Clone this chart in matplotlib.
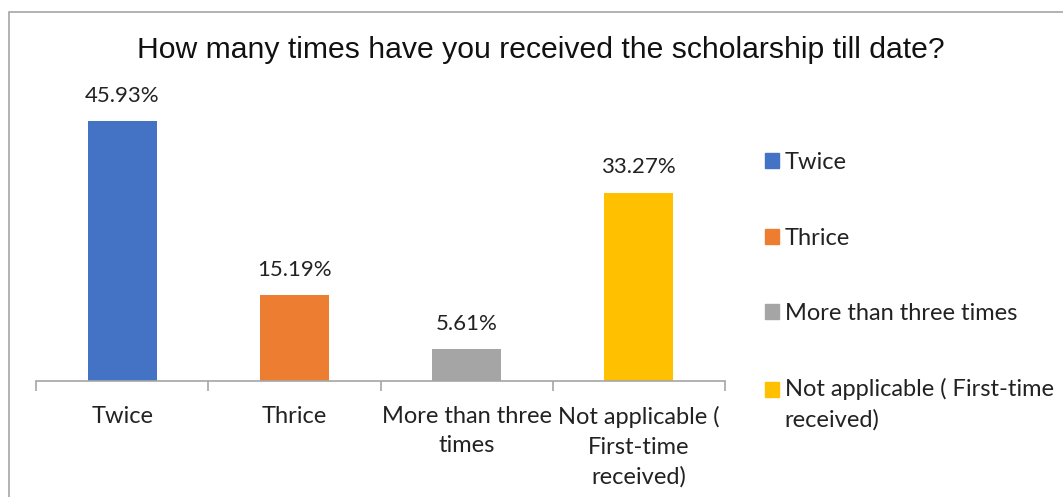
import matplotlib.pyplot as plt
from matplotlib.patches import Rectangle
from matplotlib.legend_handler import HandlerPatch

categories = ["Twice", "Thrice", "More than three times", "Not applicable ( First-time received)"]
tick_labels = ["Twice", "Thrice", "More than three\ntimes", "Not applicable (\nFirst-time\nreceived)"]
legend_labels = ["Twice", "Thrice", "More than three times", "Not applicable ( First-time\nreceived)"]
percents = [45.93, 15.19, 5.61, 33.27]
colors = ["#4472C4", "#ED7D31", "#A5A5A5", "#FFC000"]

W, H = 1063, 497
fig = plt.figure(figsize=(W / 100, H / 100), dpi=100)
ax = fig.add_axes([36 / W, 1 - 381 / H, (725 - 36) / W, (381 - 98) / H])

body = ["Lato", "DejaVu Sans"]
xs = list(range(len(percents)))
bars = ax.bar(xs, percents, width=0.4, color=colors, label=categories)
for x, v in zip(xs, percents):
    ax.annotate(f"{v:.2f}%", (x, v), xytext=(0, 11), textcoords="offset points",
                ha="center", va="bottom", fontsize=16, family=body, color="#222222")

ax.set_xlim(-0.5, 3.5)
ax.set_ylim(0, 50)
ax.set_yticks([])
for side in ["top", "right", "left"]:
    ax.spines[side].set_visible(False)
ax.spines["bottom"].set_color("#a6a6a6")
ax.spines["bottom"].set_linewidth(1.2)
ax.set_xticks(xs)
ax.set_xticklabels(tick_labels, fontsize=17, family=body, color="#222222", linespacing=1.5, va="top")
ax.tick_params(axis="x", which="major", length=0, pad=18)
ax.set_xticks([-0.5, 0.5, 1.5, 2.5, 3.5], minor=True)
ax.tick_params(axis="x", which="minor", length=7, color="#a6a6a6", width=1.2)

fig.text(541 / W, 1 - 50 / H, "How many times have you received the scholarship till date?",
         ha="center", va="center", fontsize=21.7, family=["Liberation Sans", "DejaVu Sans"], color="#111111")


# keep the swatch level with the first line of a wrapped label
def top_line_patch(legend, orig_handle, xdescent, ydescent, width, height, fontsize):
    return Rectangle((-xdescent, -ydescent + 10.8), width, height)


handles = [Rectangle((0, 0), 1, 1, color=c) for c in colors]
leg = fig.legend(handles, legend_labels, loc="upper left", bbox_to_anchor=(744 / W, 1 - 131 / H),
                 frameon=False, handlelength=0.6, handleheight=0.6, handletextpad=0.22,
                 labelspacing=2.3, prop={"family": "Lato", "size": 17},
                 handler_map={handles[-1]: HandlerPatch(patch_func=top_line_patch)})
for t in leg.get_texts():
    t.set_color("#222222")
    t.set_linespacing(1.5)

fig.patches.append(Rectangle((9 / W, -0.05), 1.1, 1 - 12 / H + 0.05, transform=fig.transFigure,
                             fill=False, edgecolor="#a6a6a6", linewidth=1.2))

fig.savefig("out.png", dpi=100)
